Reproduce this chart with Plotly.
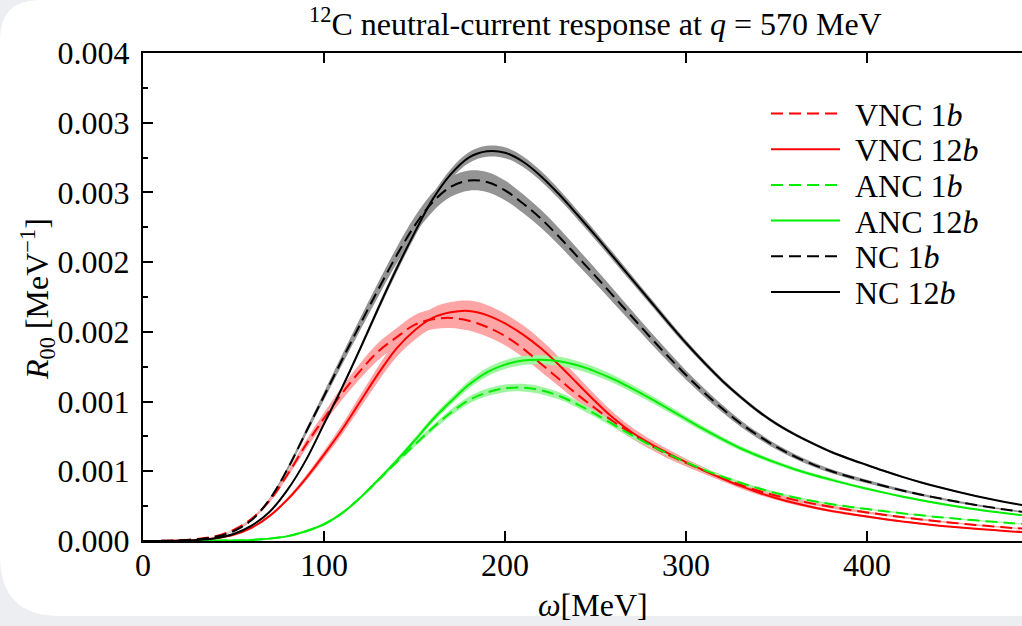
import numpy as np
import plotly.graph_objects as go

# ---------------- data (R00 in units of 1e-3 MeV^-1) ----------------
omega = [0, 10, 20, 30, 40, 50, 60, 70, 80, 90, 100, 110, 120, 130, 140, 150, 160, 170, 180, 190,
         200, 210, 220, 230, 240, 250, 260, 270, 280, 290, 300, 310, 320, 330, 340, 350, 360, 370,
         380, 390, 400, 410, 420, 430, 440, 450, 460, 470, 480, 490]

VNC_1b = [0, 0.001, 0.005, 0.015, 0.035, 0.08, 0.16, 0.29, 0.48, 0.69, 0.88, 1.06, 1.22, 1.36, 1.46,
          1.55, 1.59, 1.60, 1.58, 1.535, 1.47, 1.38, 1.27, 1.16, 1.05, 0.95, 0.855, 0.77, 0.69, 0.62,
          0.56, 0.505, 0.452, 0.403, 0.36, 0.325, 0.295, 0.268, 0.245, 0.224, 0.205, 0.187, 0.170,
          0.154, 0.140, 0.127, 0.115, 0.104, 0.094, 0.085]
VNC_12b = [0, 0.0005, 0.003, 0.008, 0.02, 0.045, 0.095, 0.18, 0.30, 0.45, 0.62, 0.80, 1.00, 1.20,
           1.38, 1.51, 1.60, 1.64, 1.65, 1.62, 1.56, 1.48, 1.38, 1.26, 1.13, 1.00, 0.88, 0.78, 0.70,
           0.63, 0.565, 0.505, 0.448, 0.395, 0.348, 0.307, 0.272, 0.242, 0.216, 0.195, 0.175, 0.156,
           0.139, 0.124, 0.110, 0.098, 0.087, 0.078, 0.069, 0.062]
ANC_1b = [0, 0, 0, 0.001, 0.002, 0.004, 0.008, 0.017, 0.035, 0.07, 0.12, 0.20, 0.31, 0.435, 0.565,
          0.69, 0.81, 0.92, 1.01, 1.065, 1.095, 1.10, 1.08, 1.04, 0.98, 0.91, 0.835, 0.76, 0.69,
          0.625, 0.565, 0.51, 0.462, 0.418, 0.378, 0.343, 0.313, 0.287, 0.265, 0.246, 0.229, 0.213,
          0.198, 0.184, 0.171, 0.159, 0.148, 0.138, 0.128, 0.119]
ANC_12b = [0, 0, 0, 0.001, 0.002, 0.004, 0.008, 0.017, 0.035, 0.07, 0.12, 0.20, 0.31, 0.44, 0.575,
           0.72, 0.87, 1.00, 1.12, 1.21, 1.265, 1.295, 1.30, 1.29, 1.26, 1.215, 1.16, 1.095, 1.025,
           0.95, 0.875, 0.80, 0.73, 0.665, 0.61, 0.56, 0.515, 0.475, 0.44, 0.406, 0.375, 0.345, 0.317,
           0.292, 0.269, 0.247, 0.227, 0.209, 0.193, 0.177]
NC_1b = [0, 0.001, 0.004, 0.012, 0.03, 0.07, 0.15, 0.30, 0.52, 0.78, 1.04, 1.30, 1.555, 1.805, 2.045,
         2.26, 2.43, 2.54, 2.585, 2.575, 2.515, 2.42, 2.31, 2.18, 2.04, 1.90, 1.755, 1.61, 1.465, 1.325,
         1.19, 1.065, 0.95, 0.845, 0.755, 0.675, 0.607, 0.55, 0.502, 0.462, 0.427, 0.393, 0.361, 0.332,
         0.306, 0.281, 0.259, 0.238, 0.219, 0.202]
NC_12b = [0, 0.0005, 0.002, 0.007, 0.02, 0.05, 0.11, 0.21, 0.37, 0.58, 0.84, 1.10, 1.38, 1.67, 1.95,
          2.21, 2.45, 2.63, 2.75, 2.795, 2.785, 2.72, 2.615, 2.485, 2.34, 2.19, 2.035, 1.88, 1.725, 1.57,
          1.42, 1.28, 1.15, 1.035, 0.93, 0.84, 0.765, 0.70, 0.64, 0.59, 0.545, 0.50, 0.458, 0.42,
          0.385, 0.353, 0.323, 0.296, 0.271, 0.249]

# relative half-width of the uncertainty bands
err_VNC_1b = 0.045
err_VNC_12b = 0.045
err_ANC_1b = 0.025
err_ANC_12b = 0.025
err_NC_1b = 0.028
err_NC_12b = 0.014

series_names = ["VNC 1<i>b</i>", "VNC 12<i>b</i>", "ANC 1<i>b</i>", "ANC 12<i>b</i>",
                "NC 1<i>b</i>", "NC 12<i>b</i>"]

y_tickvals = [0, 0.0005, 0.001, 0.0015, 0.002, 0.0025, 0.003, 0.0035]
y_ticktext = ["0.000", "0.001", "0.001", "0.002", "0.002", "0.003", "0.003", "0.004"]
y_minor = [0.00025, 0.00075, 0.00125, 0.00175, 0.00225, 0.00275, 0.00325]
x_tickvals = [0, 100, 200, 300, 400]

# ---------------- layout geometry ----------------
W, H = 1022, 626
ML, MT, MB, MR = 143, 53, 85, 0
PW, PH = W - ML - MR, H - MT - MB
FONT = "Liberation Serif"
FS = 32


def px(x):
    return (x - ML) / PW


def py(y):
    return (H - MB - y) / PH


series = [
    (VNC_1b, err_VNC_1b, "#ff0000", "rgb(255,165,165)", "12px,6px"),
    (VNC_12b, err_VNC_12b, "#ff0000", "rgb(255,165,165)", "solid"),
    (ANC_1b, err_ANC_1b, "#00ee00", "rgb(160,245,160)", "12px,6px"),
    (ANC_12b, err_ANC_12b, "#00ee00", "rgb(160,245,160)", "solid"),
    (NC_1b, err_NC_1b, "#000000", "rgb(148,148,148)", "12px,6px"),
    (NC_12b, err_NC_12b, "#000000", "rgb(148,148,148)", "solid"),
]

x = np.array(omega, dtype=float)
fig = go.Figure()

# bands (black first, then red, then green)
for idx in [4, 5, 0, 1, 2, 3]:
    vals, err, lc, bc, dash = series[idx]
    v = np.array(vals) * 1e-3
    fig.add_trace(go.Scatter(x=x, y=v * (1 - err), mode="lines", line=dict(width=0, color=bc, shape="spline"),
                             showlegend=False, hoverinfo="skip"))
    fig.add_trace(go.Scatter(x=x, y=v * (1 + err), mode="lines", line=dict(width=0, color=bc, shape="spline"),
                             fill="tonexty", fillcolor=bc, showlegend=False, hoverinfo="skip"))

# lines
for (vals, err, lc, bc, dash), name in zip(series, series_names):
    v = np.array(vals) * 1e-3
    fig.add_trace(go.Scatter(x=x, y=v, mode="lines", name=name,
                             line=dict(color=lc, width=2, dash=dash, shape="spline"),
                             showlegend=False))

# custom legend
shapes = []
annotations = []
leg_y0, leg_dy = 113.5, 35.7
for i, ((vals, err, lc, bc, dash), name) in enumerate(zip(series, series_names)):
    yy = leg_y0 + i * leg_dy
    shapes.append(dict(type="line", xref="paper", yref="paper", x0=px(771), x1=px(840), y0=py(yy), y1=py(yy),
                       line=dict(color=lc, width=2, dash=dash)))
    annotations.append(dict(xref="paper", yref="paper", x=px(853), y=py(yy + 1), text=name, showarrow=False,
                            xanchor="left", yanchor="middle", font=dict(family=FONT, size=FS, color="black")))

# background: white rounded panel on light-grey page
r1, r2 = 40, 60
bot = 616
path = (f"M {px(0)},{py(r1)} Q {px(0)},{py(0)} {px(r1)},{py(0)} "
        f"L {px(1040)},{py(0)} L {px(1040)},{py(bot)} L {px(r2)},{py(bot)} "
        f"Q {px(0)},{py(bot)} {px(0)},{py(bot - r2)} Z")
shapes.insert(0, dict(type="path", path=path, xref="paper", yref="paper", fillcolor="white",
                      line=dict(width=0), layer="below"))
shapes.insert(0, dict(type="rect", xref="paper", yref="paper", x0=px(-5), x1=px(1030), y0=py(-5), y1=py(631),
                      fillcolor="#eceef1", line=dict(width=0), layer="below"))

# axis titles and title
annotations.append(dict(xref="paper", yref="paper", x=px(593), y=py(605), text="<i>ω</i>[MeV]",
                        showarrow=False, xanchor="center", yanchor="middle",
                        font=dict(family=FONT, size=FS, color="black")))
annotations.append(dict(xref="paper", yref="paper", x=px(37), y=py(299),
                        text="<i>R</i><sub>00</sub> [MeV<sup>−1</sup>]", textangle=-90,
                        showarrow=False, xanchor="center", yanchor="middle",
                        font=dict(family=FONT, size=FS, color="black")))
annotations.append(dict(xref="paper", yref="paper", x=px(595), y=py(22),
                        text="<sup>12</sup>C neutral-current response at <i>q</i> = 570 MeV",
                        showarrow=False, xanchor="center", yanchor="middle",
                        font=dict(family=FONT, size=FS, color="black")))

xmax = PW / 181.0 * 100

fig.update_layout(
    width=W, height=H,
    margin=dict(l=ML, r=MR, t=MT, b=MB, pad=0),
    paper_bgcolor="white", plot_bgcolor="rgba(0,0,0,0)",
    showlegend=False,
    shapes=shapes, annotations=annotations,
    font=dict(family=FONT, size=FS, color="black"),
    xaxis=dict(range=[0, xmax], tickvals=x_tickvals, ticks="inside", ticklen=10, tickwidth=1.5,
               tickcolor="black", showline=True, linewidth=2, linecolor="black", mirror="ticks",
               showgrid=False, zeroline=False, tickfont=dict(family=FONT, size=FS),
               ticklabelstandoff=-5),
    yaxis=dict(range=[0, 0.0035], tickvals=y_tickvals, ticktext=y_ticktext, ticks="inside", ticklen=10,
               tickwidth=1.5, tickcolor="black", showline=True, linewidth=2, linecolor="black",
               mirror=False, showgrid=False, zeroline=False, tickfont=dict(family=FONT, size=FS),
               ticklabelstandoff=5,
               minor=dict(tickmode="array", tickvals=y_minor, ticks="inside", ticklen=5, tickwidth=1.5,
                          tickcolor="black", showgrid=False)),
)

fig.write_html("out.html")
